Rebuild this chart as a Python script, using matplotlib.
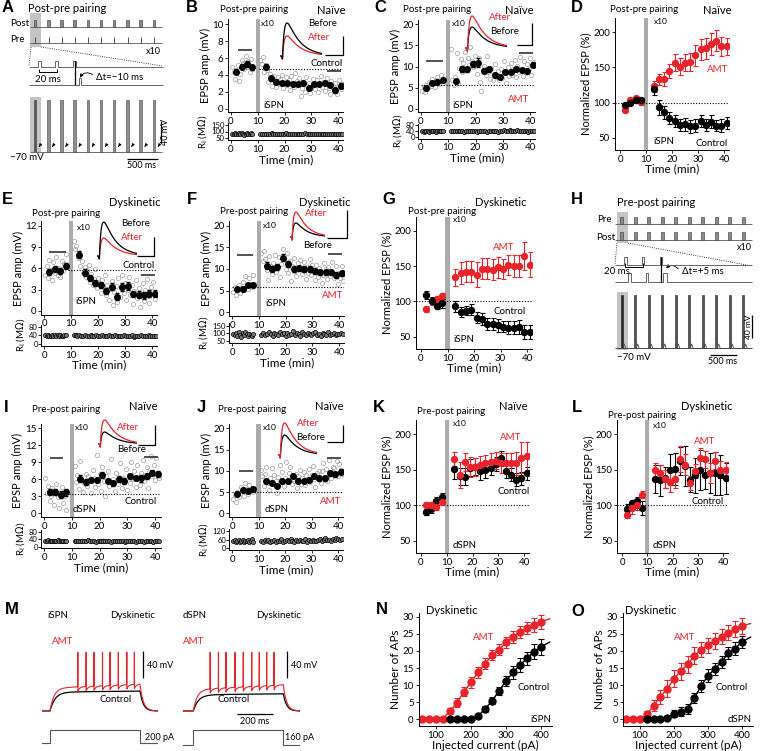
import numpy as np
import matplotlib.pyplot as plt
from matplotlib.patches import Rectangle, FancyArrowPatch

plt.rcParams['font.family'] = ['Lato', 'DejaVu Sans']
plt.rcParams['axes.linewidth'] = 0.7

W, H = 768, 751
RED = '#e8232a'
BAR = '#ababab'
RAW = '#9c9c9c'

# time bins of the averaged points (min)
PRE_T = [2, 4, 6, 8]
POST_T = [13, 15, 17, 19, 21, 23, 25, 27, 29, 31, 33, 35, 37, 39, 41]

# ---- B: naive, post-pre, iSPN, control ----
b_mean = [4.4, 5.0, 5.3, 4.9, 5.0, 3.6, 3.2, 3.1, 3.0, 2.9, 2.9, 3.1, 2.4, 2.9, 2.9, 3.0, 2.8, 2.2, 2.7]
b_err = [0.3, 0.3, 0.3, 0.3, 0.3, 0.3, 0.2, 0.2, 0.2, 0.2, 0.2, 0.2, 0.2, 0.2, 0.2, 0.2, 0.2, 0.3, 0.3]
b_raw_pre = [4.9, 4.4, 3.5, 4.6, 5.2, 3.3, 4.1, 5.8, 5.4, 4.7, 6.2, 5.0, 5.6, 4.3, 5.9, 4.7]
b_raw_post = [5.8, 5.3, 6.1, 4.4, 5.2, 4.6, 3.2, 4.1, 3.6, 2.7, 3.9, 3.3, 2.6, 3.8, 2.9, 3.5, 4.0, 2.5,
              3.1, 3.7, 2.8, 3.4, 2.2, 3.9, 3.0, 2.6, 4.2, 3.3, 2.9, 3.6, 1.5, 2.4, 3.2, 2.0, 3.7, 2.7,
              3.1, 1.9, 2.5, 3.5, 2.8, 2.3, 3.4, 2.0, 3.0, 3.9, 2.6, 3.2, 2.1, 2.9, 3.6, 2.4, 1.8, 3.3,
              2.7, 2.2, 3.1, 1.7, 2.6, 3.4, 2.3, 2.9]
b_ri_pre = [84, 81, 86, 79, 83, 88, 80, 85, 82, 72, 84, 87, 81, 83, 86, 80]
b_ri_post = [82, 80, 84, 79, 83, 81, 85, 78, 82, 84, 80, 83, 79, 81, 85, 82, 78, 80, 84, 81, 83, 79, 82,
             80, 85, 81, 78, 83, 80, 82, 84, 79, 81, 83, 80, 82, 78, 84, 81, 79, 83, 80, 82, 81, 79]

# ---- C: naive, post-pre, iSPN, AMT ----
c_mean = [4.8, 6.2, 6.4, 6.7, 6.6, 9.4, 9.4, 10.6, 10.9, 9.0, 9.4, 7.9, 7.6, 8.7, 8.7, 9.4, 9.2, 8.9, 10.4]
c_err = [0.4, 0.4, 0.4, 0.4, 0.5, 0.7, 0.6, 0.6, 1.0, 0.6, 0.6, 0.5, 0.5, 0.5, 0.5, 0.5, 0.5, 0.5, 0.6]
c_raw_pre = [4.2, 5.1, 3.9, 5.6, 4.8, 6.3, 5.4, 7.0, 6.1, 5.2, 6.8, 7.6, 5.9, 6.5, 8.1, 6.2]
c_raw_post = [14.2, 6.8, 5.6, 7.4, 13.1, 6.1, 9.6, 11.8, 8.7, 10.9, 13.5, 9.2, 12.1, 10.4, 14.6, 11.3, 9.8,
              12.6, 10.7, 8.3, 11.9, 6.4, 4.3, 9.1, 10.2, 7.9, 12.4, 8.8, 7.1, 9.7, 6.9, 8.2, 10.5, 7.6,
              8.9, 6.7, 9.4, 7.3, 11.2, 8.5, 6.2, 9.9, 7.8, 10.8, 8.1, 9.3, 11.6, 7.4, 10.1, 8.6, 12.3,
              9.0, 7.7, 11.4, 8.4, 10.6, 9.5, 12.0, 8.0, 10.3, 11.1]
c_ri_pre = [38, 36, 40, 37, 39, 35, 41, 38, 37, 40, 36, 39, 38, 42, 37, 40]
c_ri_post = [40, 38, 41, 37, 39, 42, 38, 36, 40, 39, 37, 41, 38, 40, 36, 39, 37, 41, 38, 35, 39, 40, 37,
             42, 38, 36, 41, 39, 44, 40, 37, 46, 39, 42, 38, 48, 40, 37, 43, 39, 41, 36, 38, 40, 37]

# ---- E: dyskinetic, post-pre, iSPN, control ----
e_mean = [5.5, 5.9, 5.6, 6.3, 7.9, 5.4, 4.6, 3.9, 3.7, 2.8, 3.4, 2.0, 3.4, 3.5, 2.4, 2.3, 2.2, 2.4, 2.4]
e_err = [0.4, 0.4, 0.4, 0.4, 0.5, 0.5, 0.4, 0.4, 0.4, 0.4, 0.5, 0.5, 0.6, 0.6, 0.4, 0.5, 0.5, 0.5, 0.5]
e_raw_pre = [5.1, 6.4, 4.6, 7.2, 5.8, 4.3, 6.9, 5.4, 7.6, 5.0, 6.1, 4.8, 7.1, 5.6, 6.6, 8.0]
e_raw_post = [9.8, 8.7, 9.2, 7.5, 8.1, 6.4, 7.0, 5.3, 6.2, 4.8, 5.7, 6.5, 4.1, 5.2, 3.6, 4.5, 5.9, 3.2,
              4.7, 3.9, 2.6, 4.4, 3.4, 5.0, 2.3, 3.7, 1.6, 3.1, 4.2, 0.8, 2.7, 3.5, 1.2, 4.6, 2.0, 3.3,
              5.1, 2.5, 4.0, 1.5, 3.0, 4.8, 2.2, 3.6, 1.0, 2.8, 4.3, 1.8, 3.2, 0.6, 2.4, 3.9, 1.4, 2.9,
              4.5, 2.1, 1.1, 3.4, 2.6, 4.1, 1.7, 2.3]
e_ri_pre = [40, 37, 42, 36, 39, 41, 38, 43, 37, 40, 35, 41, 39, 38, 42, 40]
e_ri_post = [43, 40, 38, 41, 37, 39, 42, 36, 38, 40, 37, 39, 41, 36, 38, 40, 35, 39, 37, 41, 36, 38, 40,
             37, 39, 35, 38, 41, 36, 39, 37, 40, 34, 38, 36, 39, 41, 37, 35, 38, 40, 36, 39, 37, 38]

# ---- F: dyskinetic, pre-post, iSPN, AMT ----
f_mean = [5.3, 5.4, 6.2, 6.3, 10.8, 10.0, 10.5, 12.6, 11.1, 10.0, 10.2, 10.0, 10.0, 9.5, 9.2, 9.2, 9.2, 8.6, 9.0]
f_err = [0.4, 0.4, 0.4, 0.4, 0.8, 0.7, 0.7, 0.8, 0.7, 0.6, 0.6, 0.6, 0.6, 0.6, 0.6, 0.6, 0.6, 0.6, 0.6]
f_raw_pre = [4.6, 5.8, 3.9, 5.2, 6.3, 4.4, 5.6, 6.9, 5.1, 8.3, 6.0, 5.4, 7.9, 6.6, 5.9, 8.5]
f_raw_post = [13.6, 11.8, 14.1, 12.4, 9.7, 7.5, 12.9, 10.6, 8.8, 11.5, 13.2, 9.4, 10.3, 12.7, 8.1, 11.1,
              14.6, 12.2, 10.0, 13.8, 9.1, 11.9, 7.2, 10.7, 12.5, 9.6, 8.4, 11.3, 10.1, 12.0, 8.9, 9.8,
              11.7, 7.8, 10.4, 9.0, 12.3, 8.6, 10.9, 9.3, 7.4, 11.0, 8.2, 10.2, 9.5, 6.8, 8.7, 11.4, 9.9,
              7.6, 10.5, 8.3, 9.2, 11.6, 7.9, 8.5, 10.8, 6.6, 9.0, 8.0, 10.6, 7.3]
f_ri_pre = [95, 88, 102, 84, 108, 91, 78, 99, 86, 105, 93, 81, 97, 89, 83, 92]
f_ri_post = [90, 104, 86, 98, 110, 92, 84, 101, 95, 88, 107, 93, 99, 85, 103, 91, 96, 112, 87, 100, 94, 82,
             106, 97, 89, 102, 93, 86, 99, 108, 91, 95, 84, 101, 97, 90, 105, 88, 94, 100, 86, 98, 92, 103, 95]

# ---- I: naive, pre-post, dSPN, control ----
i_mean = [3.8, 3.8, 3.3, 3.7, 6.1, 5.5, 5.9, 5.9, 6.8, 5.7, 5.3, 6.0, 5.7, 6.5, 6.2, 6.2, 6.5, 7.2, 6.9]
i_err = [0.5, 0.5, 0.6, 0.6, 0.6, 0.5, 0.4, 0.4, 0.5, 0.4, 0.4, 0.4, 0.5, 0.5, 0.4, 0.6, 0.5, 0.5, 0.5]
i_raw_pre = [6.3, 3.6, 4.8, 2.2, 3.1, 4.4, 1.5, 3.9, 5.2, 2.8, 0.9, 3.5, 4.6, 1.8, 3.0, 0.6]
i_raw_post = [8.4, 5.6, 6.8, 4.3, 9.2, 6.1, 3.8, 5.4, 7.0, 4.9, 6.5, 5.9, 3.5, 7.7, 6.3, 4.6, 10.3, 5.2,
              6.9, 4.0, 8.1, 5.7, 3.1, 6.6, 7.4, 4.8, 9.6, 5.5, 6.0, 3.9, 7.2, 5.1, 6.4, 8.8, 4.5, 6.2,
              5.8, 7.9, 4.2, 6.7, 5.3, 9.0, 6.1, 7.5, 4.7, 8.5, 6.0, 5.0, 7.1, 9.4, 5.7, 6.8, 8.2, 4.4,
              7.3, 10.1, 6.5, 8.6, 5.9, 9.7, 7.0, 6.3]
i_ri_pre = [32, 30, 34, 29, 31, 33, 28, 32, 30, 35, 31, 29, 33, 30, 32, 28]
i_ri_post = [31, 29, 33, 30, 32, 28, 31, 34, 29, 30, 32, 27, 31, 33, 29, 30, 28, 32, 30, 26, 31, 29, 33,
             28, 30, 32, 27, 29, 31, 30, 28, 32, 26, 30, 29, 31, 27, 30, 28, 32, 29, 26, 31, 28, 30]

# ---- J: naive, pre-post, dSPN, AMT ----
j_mean = [4.5, 5.5, 5.3, 5.7, 7.6, 7.2, 6.5, 7.6, 7.6, 8.8, 7.7, 7.6, 7.8, 8.7, 8.2, 8.2, 9.4, 9.2, 9.8]
j_err = [0.4, 0.4, 0.4, 0.4, 0.5, 0.5, 0.5, 0.5, 0.5, 0.5, 0.5, 0.5, 0.5, 0.5, 0.5, 0.5, 0.6, 0.6, 0.6]
j_raw_pre = [3.4, 4.2, 2.6, 5.1, 3.8, 4.7, 6.2, 5.5, 4.0, 7.2, 5.8, 4.6, 6.6, 5.3, 6.0, 4.9]
j_raw_post = [10.2, 8.7, 6.4, 9.3, 11.0, 7.1, 5.6, 8.2, 10.6, 6.8, 9.0, 7.5, 4.8, 8.6, 11.4, 7.9, 9.8,
              6.5, 8.4, 12.1, 7.3, 9.5, 10.9, 6.9, 8.0, 7.6, 9.2, 5.9, 8.8, 10.3, 7.0, 8.3, 9.7, 6.6,
              8.9, 7.8, 10.5, 7.4, 9.1, 11.2, 8.1, 6.3, 9.4, 8.5, 10.0, 7.2, 9.9, 11.8, 8.6, 10.4, 7.7,
              12.5, 9.6, 8.2, 11.0, 10.7, 9.0, 12.2, 8.8, 11.5, 10.1, 9.3]
j_ri_pre = [48, 55, 44, 52, 60, 46, 50, 57, 42, 53, 49, 58, 45, 51, 62, 47]
j_ri_post = [52, 46, 58, 49, 55, 43, 51, 60, 47, 54, 50, 62, 45, 53, 57, 48, 64, 51, 46, 56, 52, 59, 49,
             53, 66, 47, 55, 50, 61, 54, 48, 58, 63, 52, 57, 69, 55, 60, 53, 66, 58, 72, 62, 56, 64]

# ---- normalized EPSP (%) : D, G, K, L ----
d_red = [90, 103, 106, 101, 123, 133, 134, 145, 157, 151, 157, 158, 167, 176, 177, 183, 188, 180, 180]
d_red_err = [4, 4, 4, 5, 8, 8, 10, 10, 12, 12, 12, 13, 15, 15, 15, 16, 15, 14, 12]
d_blk = [96, 100, 103, 103, 119, 93, 86, 78, 74, 68, 69, 66, 67, 74, 68, 73, 67, 67, 71]
d_blk_err = [4, 4, 4, 4, 8, 10, 9, 9, 9, 9, 9, 9, 9, 9, 8, 9, 8, 9, 8]

g_red = [89, 100, 104, 108, 134, 140, 142, 142, 138, 146, 146, 145, 148, 146, 151, 150, 150, 164, 152]
g_red_err = [4, 5, 4, 4, 12, 15, 15, 15, 17, 15, 15, 15, 15, 14, 14, 15, 15, 20, 18]
g_blk = [109, 101, 93, 97, 93, 85, 87, 88, 77, 75, 68, 68, 66, 64, 63, 63, 64, 57, 57]
g_blk_err = [6, 5, 4, 6, 8, 7, 7, 8, 8, 8, 8, 8, 9, 8, 9, 9, 10, 10, 10]

k_red = [100, 100, 98, 105, 165, 143, 161, 154, 154, 157, 159, 161, 163, 160, 159, 159, 159, 167, 169]
k_red_err = [5, 5, 5, 5, 10, 18, 13, 14, 13, 12, 12, 12, 12, 14, 14, 15, 16, 22, 20]
k_blk = [90, 94, 106, 111, 151, 141, 140, 153, 154, 148, 150, 152, 158, 166, 148, 143, 136, 138, 145]
k_blk_err = [4, 5, 5, 6, 14, 12, 12, 12, 12, 12, 12, 10, 10, 10, 9, 9, 9, 9, 9]

l_red = [86, 96, 101, 115, 150, 145, 137, 133, 137, 165, 157, 131, 148, 166, 165, 145, 163, 150, 149]
l_red_err = [4, 8, 8, 5, 10, 12, 12, 15, 12, 18, 15, 10, 10, 15, 12, 14, 12, 12, 12]
l_blk = [94, 103, 106, 96, 137, 135, 139, 150, 151, 162, 155, 136, 142, 150, 143, 145, 145, 143, 138]
l_blk_err = [8, 5, 5, 10, 20, 22, 15, 22, 22, 20, 28, 18, 25, 28, 20, 28, 30, 28, 22]

# ---- N, O: number of APs vs injected current ----
current = [60, 80, 100, 120, 140, 160, 180, 200, 220, 240, 260, 280, 300, 320, 340, 360, 380, 400]
n_red = [0, 0, 0, 0.2, 2.4, 4.9, 8.1, 10.8, 13.7, 16.2, 18.8, 20.3, 22.5, 24.1, 25.6, 26.6, 27.6, 28.5]
n_red_err = [0, 0, 0, 0.3, 0.8, 1.2, 1.4, 1.6, 1.6, 1.6, 1.6, 1.6, 1.7, 1.8, 1.8, 1.8, 2.0, 2.0]
n_blk_x = [140, 160, 180, 200, 220, 240, 260, 280, 300, 320, 340, 360, 380, 400]
n_blk = [0, 0, 0, 0.2, 1.0, 3.0, 5.4, 8.3, 11.2, 13.7, 15.9, 17.8, 19.8, 21.2]
n_blk_err = [0, 0, 0, 0.3, 0.5, 0.8, 1.0, 1.2, 1.5, 1.8, 2.0, 2.0, 2.2, 2.4]
o_red = [0, 0, 0, 1.5, 4.0, 6.6, 8.9, 11.8, 14.1, 16.1, 18.6, 20.3, 21.7, 22.9, 24.1, 25.3, 26.4, 27.3]
o_red_err = [0, 0, 0, 0.8, 1.5, 2.0, 2.5, 2.5, 2.5, 2.5, 2.5, 2.2, 2.2, 2.2, 2.2, 2.2, 2.2, 2.3]
o_blk_x = [120, 140, 160, 180, 200, 220, 240, 260, 280, 300, 320, 340, 360, 380, 400]
o_blk = [0, 0, 0, 0.5, 1.6, 2.2, 3.0, 6.3, 9.8, 12.8, 14.7, 16.8, 19.3, 20.7, 22.7]
o_blk_err = [0, 0, 0, 0.5, 1.0, 1.3, 1.5, 1.5, 1.7, 1.8, 1.8, 1.8, 1.8, 1.8, 1.8]
fit_end = 425
n_tails = (29.4, 22.6)
o_tails = (28.0, 24.0)

# ---- M: example traces ----
STEP_MS = 500
m_spikes_ispn = [154, 200, 244, 291, 333, 379, 426, 468]
m_spikes_dspn = [93, 139, 181, 231, 277, 324, 366, 407, 448]
# (AMT start, AMT end, control) plateau potentials, mV
m_levels_ispn = (-36, -30, -42)
m_levels_dspn = (-38, -31, -46)
N_PAIRINGS = 10


fig = plt.figure(figsize=(W / 100, H / 100), dpi=100)


def make_ax(xpx, xv, xlim, ypx, yv, ylim):
    # place an axes so that data values xv/yv land on pixels xpx/ypx
    sx = (xpx[1] - xpx[0]) / (xv[1] - xv[0])
    sy = (ypx[1] - ypx[0]) / (yv[1] - yv[0])
    left = xpx[0] + (xlim[0] - xv[0]) * sx
    right = xpx[0] + (xlim[1] - xv[0]) * sx
    bottom = ypx[0] + (ylim[0] - yv[0]) * sy
    top = ypx[0] + (ylim[1] - yv[0]) * sy
    ax = fig.add_axes([left / W, 1 - bottom / H, (right - left) / W, (bottom - top) / H])
    ax.set_xlim(xlim)
    ax.set_ylim(ylim)
    for s in ('top', 'right'):
        ax.spines[s].set_visible(False)
    ax.tick_params(labelsize=7, length=2.5, width=0.6, pad=1)
    ax.patch.set_alpha(0)
    return ax


def epsp_panel(xpx, ypx, ytop, ylim, yticks, ripx, riv, rilim, riticks, mean, err,
               raw_pre, raw_post, ri_pre, ri_post, base, dot_from, bar_pre, bar_post):
    ax = make_ax(xpx, (0, 40), (-1, 42), ypx, (0, ytop), ylim)
    ax.axvspan(9.2, 10.8, color=BAR, lw=0, zorder=0)
    ax.plot(np.linspace(0.5, 8, len(raw_pre)), raw_pre, 'o', ms=3, mfc='none', mec=RAW, mew=0.5)
    ax.plot(np.linspace(11, 41.5, len(raw_post)), raw_post, 'o', ms=3, mfc='none', mec=RAW, mew=0.5)
    ax.errorbar(PRE_T + POST_T, mean, yerr=err, fmt='o', color='k', ms=4, elinewidth=0.8,
                capsize=1.2, zorder=3)
    ax.hlines(base, dot_from, 42, colors='k', linestyles=(0, (1, 1.5)), lw=0.8)
    ax.hlines(bar_pre[2], bar_pre[0], bar_pre[1], colors='#222', lw=1.1)
    ax.hlines(bar_post[2], bar_post[0], bar_post[1], colors='#222', lw=1.1)
    ax.set_xticks([0, 10, 20, 30, 40])
    ax.set_yticks(yticks)
    ax.set_ylabel('EPSP amp (mV)', fontsize=8, labelpad=1)

    ri = make_ax(xpx, (0, 40), (-1, 42), ripx, riv, rilim)
    ri.plot(np.linspace(0.5, 8, len(ri_pre)), ri_pre, 'o', ms=3, mfc='#777', mec='k', mew=0.5)
    ri.plot(np.linspace(11, 41.5, len(ri_post)), ri_post, 'o', ms=3, mfc='#777', mec='k', mew=0.5)
    ri.set_xticks([0, 10, 20, 30, 40])
    ri.set_yticks(riticks)
    ri.tick_params(axis='y', labelsize=5.5, length=2, pad=0.5)
    ri.set_ylabel(r'R$_\mathrm{i}$ (M$\Omega$)', fontsize=7, labelpad=1)
    ri.set_xlabel('Time (min)', fontsize=8.5, labelpad=0)


def norm_panel(xpx, ypx, red, red_e, blk, blk_e, red_on_top=False):
    ax = make_ax(xpx, (0, 40), (-2, 42), ypx, (50, 200), (33, 220))
    ax.axvspan(9.2, 10.8, color=BAR, lw=0, zorder=0)
    ax.axhline(100, color='k', ls=(0, (1, 1.5)), lw=0.8, zorder=1)
    series = [(red, red_e, RED), (blk, blk_e, 'k')]
    if red_on_top:
        series = series[::-1]
    for y, e, c in series:
        ax.errorbar(PRE_T + POST_T, y, yerr=e, fmt='o', color=c, ms=4.3, elinewidth=0.8,
                    capsize=1.8, capthick=0.8, zorder=3)
    ax.set_xticks([0, 10, 20, 30, 40])
    ax.set_yticks([50, 100, 150, 200])
    ax.set_ylabel('Normalized EPSP (%)', fontsize=8, labelpad=1)
    ax.set_xlabel('Time (min)', fontsize=8.5, labelpad=0)


def ap_panel(xpx, red, red_e, blk_x, blk, blk_e, tails):
    ax = make_ax(xpx, (100, 400), (50, 432), (719.3, 616.7), (0, 30), (-2, 31))
    ax.plot(current + [fit_end], red + [tails[0]], color=RED, lw=1)
    ax.plot(blk_x + [fit_end], blk + [tails[1]], color='k', lw=1)
    ax.errorbar(current, red, yerr=red_e, fmt='o', color=RED, ms=5, elinewidth=0.8,
                capsize=2, capthick=0.8)
    ax.errorbar(blk_x, blk, yerr=blk_e, fmt='o', color='k', ms=5, elinewidth=0.8,
                capsize=2, capthick=0.8)
    ax.set_xticks([100, 200, 300, 400])
    ax.set_yticks([0, 5, 10, 15, 20, 25, 30])
    ax.set_ylabel('Number of APs', fontsize=8.5, labelpad=1)
    ax.set_xlabel('Injected current (pA)', fontsize=8.5, labelpad=0)


def membrane(t, v_start, v_end, tau, spikes):
    v = np.full(t.shape, -70.0)
    on = (t >= 0) & (t <= STEP_MS)
    v[on] = -70 + (v_start + 70) * (1 - np.exp(-t[on] / tau)) + (v_end - v_start) * t[on] / STEP_MS
    last = v[on][-1]
    off = t > STEP_MS
    v[off] = -70 + (last + 70) * np.exp(-(t[off] - STEP_MS) / 18)
    for s in spikes:
        d = t - s
        ahp = (d > 1) & (d < 45)
        v[ahp] -= 7 * np.exp(-d[ahp] / 10)
        v[(d >= 0) & (d <= 1)] = 17
    return v


def trace_panel(x0px, t0, t1, levels, spikes, step_low_px):
    t = np.linspace(t0, t1, 5000)
    av = make_ax((x0px, x0px + 90), (0, STEP_MS), (t0, t1), (711, 684), (-70, -30), (-78, 24))
    av.plot(t, membrane(t, levels[2], levels[2] + 1.5, 28, []), color='k', lw=0.9)
    av.plot(t, membrane(t, levels[0], levels[1], 22, spikes), color=RED, lw=0.8)
    av.axis('off')
    ac = make_ax((x0px, x0px + 90), (0, STEP_MS), (t0, t1), (step_low_px, 730), (0, 1), (-0.4, 1.4))
    ac.plot([t0, 0, 0, STEP_MS, STEP_MS, t1], [0, 0, 1, 1, 0, 0], color='#555', lw=0.8)
    ac.axis('off')


# ---------------- data panels ----------------
epsp_panel((231, 338), (108.7, 24.3), 10, (-0.4, 10.6), [0, 2, 4, 6, 8, 10],
           (138, 125), (50, 150), (35, 165), [50, 100, 150],
           b_mean, b_err, b_raw_pre, b_raw_post, b_ri_pre, b_ri_post,
           4.75, 10.5, (2.5, 8, 6.9), (36, 41, 4.45))
epsp_panel((421, 530), (108.7, 24.3), 20, (-0.8, 21), [0, 5, 10, 15, 20],
           (137, 125), (0, 80), (-10, 90), [0, 40, 80],
           c_mean, c_err, c_raw_pre, c_raw_post, c_ri_pre, c_ri_post,
           5.5, 0, (2, 8, 11.3), (36, 41, 13.3))
epsp_panel((44, 152), (311, 225.7), 12, (-0.5, 12.6), [0, 3, 6, 9, 12],
           (344, 326.7), (0, 80), (-8, 90), [0, 40, 80],
           e_mean, e_err, e_raw_pre, e_raw_post, e_ri_pre, e_ri_post,
           5.8, 9, (2, 8, 8.3), (36, 41, 5.1))
epsp_panel((232, 339), (312.3, 225.7), 20, (-0.8, 21), [0, 5, 10, 15, 20],
           (341, 325.5), (50, 150), (35, 165), [50, 100, 150],
           f_mean, f_err, f_raw_pre, f_raw_post, f_ri_pre, f_ri_post,
           5.8, 0, (2, 8, 13.2), (36, 41, 13.4))
epsp_panel((44, 155), (513.3, 428.3), 15, (-0.6, 15.8), [0, 3, 6, 9, 12, 15],
           (546.7, 531.7), (0, 80), (-8, 90), [0, 40, 80],
           i_mean, i_err, i_raw_pre, i_raw_post, i_ri_pre, i_ri_post,
           3.4, 0, (2, 7, 9.8), (36, 41, 9.9))
epsp_panel((232, 338), (513.3, 428.3), 20, (-0.8, 21), [0, 5, 10, 15, 20],
           (548.3, 531), (0, 120), (-12, 135), [0, 60, 120],
           j_mean, j_err, j_raw_pre, j_raw_post, j_ri_pre, j_ri_post,
           5.1, 0, (2.5, 8, 10.0), (36, 41, 12.9))

norm_panel((620, 724), (137.7, 32.3), d_red, d_red_err, d_blk, d_blk_err)
norm_panel((421, 527), (336.7, 230.7), g_red, g_red_err, g_blk, g_blk_err)
norm_panel((421, 524), (540.7, 434.3), k_red, k_red_err, k_blk, k_blk_err, red_on_top=True)
norm_panel((622, 723), (540.7, 434.3), l_red, l_red_err, l_blk, l_blk_err, red_on_top=True)

ap_panel((436, 541), n_red, n_red_err, n_blk_x, n_blk, n_blk_err, n_tails)
ap_panel((640, 742), o_red, o_red_err, o_blk_x, o_blk, o_blk_err, o_tails)

trace_panel(50, -46, 600, m_levels_ispn, m_spikes_ispn, 743)
trace_panel(193.3, -55, 590, m_levels_dspn, m_spikes_dspn, 745)

# ---------------- overlay in pixel coordinates ----------------
ov = fig.add_axes([0, 0, 1, 1], zorder=10)
ov.set_xlim(0, W)
ov.set_ylim(H, 0)
ov.axis('off')


def txt(x, y, s, size=7, color='k', ha='left', **kw):
    ov.text(x, y, s, fontsize=size, color=color, ha=ha, va='center', **kw)


def line(xs, ys, color='k', lw=0.8, **kw):
    ov.plot(xs, ys, color=color, lw=lw, solid_capstyle='butt', **kw)


def epsp_inset(x0, x1, base, h_black, h_red, red_first):
    t = np.linspace(0, 1, 400)
    tt = np.clip(t - 0.06, 0, None)
    shape = np.exp(-tt / 0.3) - np.exp(-tt / 0.05)
    shape = shape / shape.max()
    art = np.exp(-((t - 0.055) / 0.01) ** 2)
    xs = x0 + t * (x1 - x0)
    order = [(h_red, RED), (h_black, 'k')]
    if not red_first:
        order = order[::-1]
    for h, c in order:
        line(xs, base - h * shape + 3 * art, color=c, lw=0.9)


def scale_bar(xh, xv, ytop, ybot):
    line([xh, xv, xv], [ybot, ybot, ytop], lw=0.9)


# panel letters
for s, x, y in [('A', 2, 8), ('B', 186, 8), ('C', 374, 8), ('D', 571, 8),
                ('E', 2, 200), ('F', 187, 200), ('G', 382, 200), ('H', 571, 200),
                ('I', 4, 407), ('J', 197, 407), ('K', 373, 407), ('L', 572, 407),
                ('M', 5, 610), ('N', 376, 610), ('O', 571, 612)]:
    ov.text(x, y, s, fontsize=12, fontweight='bold', family='Liberation Sans', ha='left', va='center')

# B
txt(220, 10, 'Post-pre pairing')
txt(345, 10, 'Naïve', size=8, ha='right')
txt(261, 24, 'x10', size=6)
epsp_inset(280, 322, 56, 33, 20, True)
scale_bar(325, 343, 36, 55)
txt(308, 23, 'Before')
txt(308, 38, 'After', color=RED)
txt(343, 63, 'Control', ha='right')
txt(263, 106, 'iSPN')
# C
txt(403, 10, 'Post-pre pairing')
txt(533, 10, 'Naïve', size=8, ha='right')
txt(452, 24, 'x10', size=6)
epsp_inset(465, 507, 48, 21, 32, False)
scale_bar(517, 532, 23, 45)
txt(489, 17, 'After', color=RED)
txt(490, 32, 'Before')
txt(529, 100, 'AMT', color=RED, ha='right')
txt(452, 106, 'iSPN')
# D
txt(610, 10, 'Post-pre pairing')
txt(732, 10, 'Naïve', size=8, ha='right')
txt(654, 22, 'x10', size=6)
txt(728, 70, 'AMT', color=RED, ha='right')
txt(653, 142, 'iSPN')
txt(728, 143, 'Control', ha='right')
# E
txt(160, 203, 'Dyskinetic', size=8, ha='right')
txt(32, 214, 'Post-pre pairing')
txt(77, 228, 'x10', size=6)
epsp_inset(97, 137, 256, 34, 18, True)
scale_bar(137, 154, 237, 256)
txt(121, 224, 'Before')
txt(121, 238, 'After', color=RED)
txt(155, 265, 'Control', ha='right')
txt(75, 302, 'iSPN')
# F
txt(350, 203, 'Dyskinetic', size=8, ha='right')
txt(220, 212, 'Pre-post pairing')
txt(263, 225, 'x10', size=6)
epsp_inset(290, 325, 237, 14, 25, False)
scale_bar(327, 347, 210, 238)
txt(305, 214, 'After', color=RED)
txt(303, 246, 'Before')
txt(343, 295, 'AMT', color=RED, ha='right')
txt(265, 303, 'iSPN')
# G
txt(527, 203, 'Dyskinetic', size=8, ha='right')
txt(408, 212, 'Post-pre pairing')
txt(453, 220, 'x10', size=6)
txt(493, 247, 'AMT', color=RED)
txt(493, 312, 'Control')
txt(453, 339, 'iSPN')
# I
txt(157, 407, 'Naïve', size=8, ha='right')
txt(32, 410, 'Pre-post pairing')
txt(75, 428, 'x10', size=6)
epsp_inset(98, 137, 444, 12, 24, False)
scale_bar(138, 155, 425, 445)
txt(117, 428, 'After', color=RED)
txt(117, 450, 'Before')
txt(157, 501, 'Control', ha='right')
txt(73, 510, 'dSPN')
# J
txt(343, 407, 'Naïve', size=8, ha='right')
txt(218, 410, 'Pre-post pairing')
txt(263, 428, 'x10', size=6)
epsp_inset(278, 317, 455, 20, 32, False)
scale_bar(327, 343, 425, 442)
txt(297, 423, 'After', color=RED)
txt(296, 438, 'Before')
txt(341, 501, 'AMT', color=RED, ha='right')
txt(265, 510, 'dSPN')
# K
txt(527, 407, 'Naïve', size=8, ha='right')
txt(417, 412, 'Pre-post pairing')
txt(453, 423, 'x10', size=6)
txt(500, 438, 'AMT', color=RED)
txt(497, 491, 'Control')
txt(453, 545, 'dSPN')
# L
txt(732, 407, 'Dyskinetic', size=8, ha='right')
txt(608, 415, 'Pre-post pairing')
txt(653, 426, 'x10', size=6)
txt(694, 441, 'AMT', color=RED)
txt(692, 501, 'Control')
txt(653, 545, 'dSPN')
# N, O
txt(426, 611, 'Dyskinetic', size=8)
txt(473, 638, 'AMT', color=RED)
txt(518, 688, 'Control')
txt(551, 719, 'iSPN', ha='right')
txt(625, 611, 'Dyskinetic', size=8)
txt(674, 638, 'AMT', color=RED)
txt(716, 688, 'Control')
txt(752, 719, 'dSPN', ha='right')
# M
txt(47, 616, 'iSPN')
txt(110, 616, 'Dyskinetic')
txt(52, 642, 'AMT', color=RED)
txt(100, 700, 'Control')
line([143, 143], [651, 678], lw=0.9)
txt(147, 665, '40 mV', size=6.5)
txt(145, 738, '200 pA', size=6.5)
txt(183, 616, 'dSPN')
txt(256, 616, 'Dyskinetic')
txt(183, 642, 'AMT', color=RED)
txt(218, 700, 'Control')
line([287, 287], [651, 678], lw=0.9)
txt(291, 665, '40 mV', size=6.5)
line([237, 273], [714, 714], lw=0.9)
txt(255, 721, '200 ms', size=6.5, ha='center')
txt(285, 738, '160 pA', size=6.5)

# ---------------- A: post-pre pairing protocol ----------------
txt(28, 9, 'Post-pre pairing', size=8)
txt(10, 23, 'Post')
txt(10, 40, 'Pre')
ov.add_patch(Rectangle((30, 13), 11, 34, fc='#c4c4c4', ec='none', zorder=0))
line([30, 162], [27, 27], color='#555', lw=0.6)
line([30, 162], [43, 43], color='#555', lw=0.6)
a_x = 35 + np.arange(N_PAIRINGS) * 13.2
for x in a_x:
    ov.add_patch(Rectangle((x - 1.3, 20), 2.6, 7, fc='#8a8a8a', ec='#333', lw=0.4))
    line([x + 0.3, x + 0.3], [37, 43], color='#333', lw=0.6)
txt(161, 51, 'x10', size=6.5, ha='right')
line([31, 29], [47, 66], lw=0.6, ls=':')
line([41, 163], [47, 66], lw=0.6, ls=':')
line([29, 37.7, 37.7, 40.7, 40.7, 55, 55, 58.3, 58.3, 73.3, 73.3, 76, 76, 163],
     [67, 67, 61, 61, 67, 67, 61, 61, 67, 67, 61, 61, 67, 67], color='#666', lw=0.7)
line([29, 79.3, 79.3, 81.3, 81.3, 163], [85, 85, 78, 78, 85, 85], color='#666', lw=0.7)
line([38.7, 38.7, 56.5, 56.5], [69, 72, 72, 69], lw=0.7)
txt(35, 79, '20 ms')
line([75.2, 75.2], [61, 85], lw=0.9)
ov.add_patch(FancyArrowPatch((95, 76), (78.5, 80), connectionstyle='arc3,rad=0.6',
                             arrowstyle='-|>', mutation_scale=5, lw=0.6, color='k'))
txt(96, 78, 'Δt=−10 ms')
ov.add_patch(Rectangle((30, 97), 11, 55, fc='#c4c4c4', ec='none', zorder=0))
line([30, 162], [152, 152], color='#555', lw=0.6)
for k, x in enumerate(a_x):
    ov.add_patch(Rectangle((x - 1.3, 100), 2.6, 52, fc='#555' if k == 0 else '#8f8f8f', ec='#444', lw=0.4))
    ov.annotate('', xy=(x + 2.5, 149), xytext=(x + 6, 144),
                arrowprops=dict(arrowstyle='-|>', lw=0.6, color='k', mutation_scale=4))
txt(10, 158, '−70 mV')
line([161, 161], [121, 143], lw=0.9)
txt(166, 132, '40 mV', size=6.5, rotation=90, ha='center')
line([127, 158], [159, 159], lw=0.9)
txt(142, 165, '500 ms', size=6.5, ha='center')

# ---------------- H: pre-post pairing protocol ----------------
txt(617, 202, 'Pre-post pairing', size=8)
txt(597, 219, 'Pre')
txt(596, 237, 'Post')
ov.add_patch(Rectangle((616.7, 211.7), 11.6, 31.6, fc='#c4c4c4', ec='none', zorder=0))
line([615, 752], [224.3, 224.3], color='#555', lw=0.6)
line([615, 752], [240, 240], color='#555', lw=0.6)
h_x = 621.7 + np.arange(N_PAIRINGS) * 13.5
for x in h_x:
    ov.add_patch(Rectangle((x - 1.3, 216.5), 2.6, 7.8, fc='#8a8a8a', ec='#333', lw=0.4))
    ov.add_patch(Rectangle((x - 1.3, 232.2), 2.6, 7.8, fc='#8a8a8a', ec='#333', lw=0.4))
txt(752, 248, 'x10', size=6.5, ha='right')
line([617, 615], [243, 264], lw=0.6, ls=':')
line([628, 752], [243, 266], lw=0.6, ls=':')
line([615, 624.3, 624.3, 626.7, 626.7, 641.7, 641.7, 644, 644, 660, 660, 662.3, 662.3, 752],
     [265, 265, 257.3, 257.3, 265, 265, 257.3, 257.3, 265, 265, 257.3, 257.3, 265, 265], color='#666', lw=0.7)
line([615, 627.7, 627.7, 630.7, 630.7, 645.7, 645.7, 648.3, 648.3, 663.3, 663.3, 666.7, 666.7, 752],
     [281.7, 281.7, 273.3, 273.3, 281.7, 281.7, 273.3, 273.3, 281.7, 281.7, 273.3, 273.3, 281.7, 281.7],
     color='#666', lw=0.7)
line([625, 625, 643, 643], [263, 266.7, 266.7, 263], lw=0.7)
txt(604, 272, '20 ms')
line([660.7, 660.7], [257, 282], lw=0.9)
ov.add_patch(FancyArrowPatch((680, 271), (664, 270), connectionstyle='arc3,rad=0.6',
                             arrowstyle='-|>', mutation_scale=5, lw=0.6, color='k'))
txt(682, 271, 'Δt=+5 ms')
ov.add_patch(Rectangle((616.7, 292.3), 11.6, 57.7, fc='#c4c4c4', ec='none', zorder=0))
line([615, 752], [348.3, 348.3], color='#444', lw=0.7)
for k, x in enumerate(h_x):
    ov.add_patch(Rectangle((x - 1.0, 295), 2.0, 53, fc='#222' if k == 0 else '#555', ec='#222', lw=0.4))
    line([x + 1, x + 2.5, x + 4], [348.3, 344, 348.3], color='#444', lw=0.6)
txt(617, 358, '−70 mV')
line([752, 752], [315, 338.3], lw=0.9)
txt(748.5, 327, '40 mV', size=6, rotation=90, ha='center')
line([710, 737], [355, 355], lw=0.9)
txt(723, 362, '500 ms', size=6.5, ha='center')

fig.savefig('out.png', dpi=100)
